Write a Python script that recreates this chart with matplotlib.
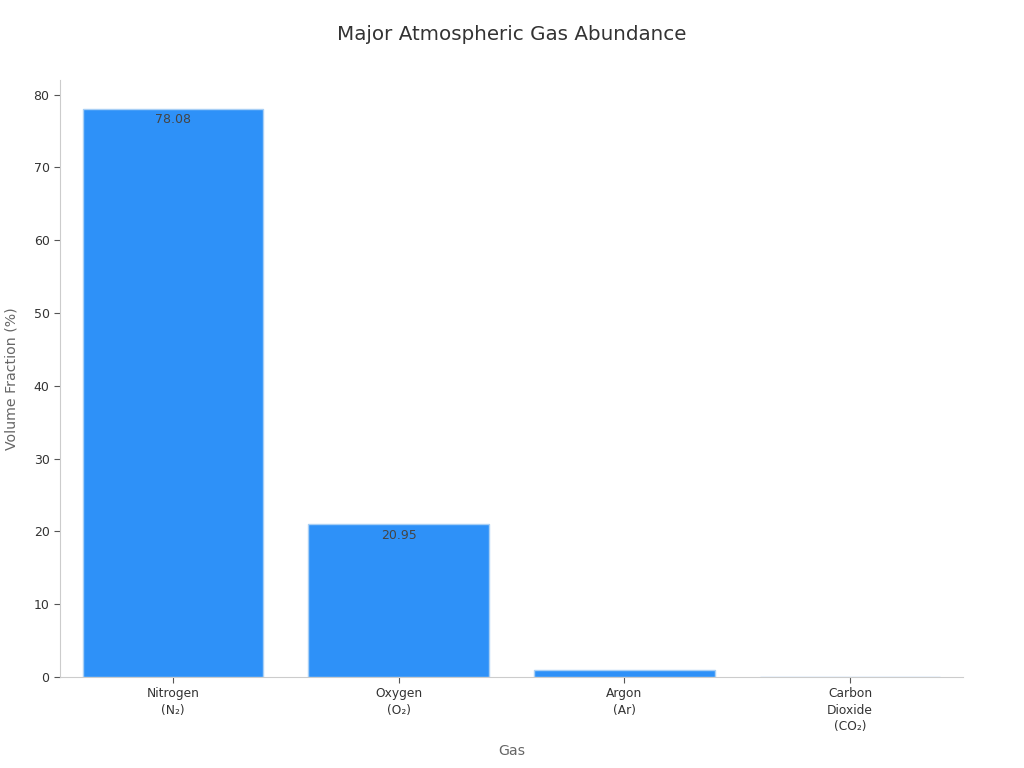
import matplotlib
matplotlib.use("Agg")
import matplotlib.pyplot as plt

gases = ["Nitrogen\n(N₂)", "Oxygen\n(O₂)", "Argon\n(Ar)", "Carbon\nDioxide\n(CO₂)"]
fractions = [78.08, 20.95, 0.93, 0.04]
labels = ["78.08", "20.95", "", ""]

plt.rcParams['font.family'] = ['DejaVu Sans']
fig = plt.figure(figsize=(10.24, 7.68), dpi=100)
ax = fig.add_axes([0.0586, 0.1185, 0.8818, 0.7773])

x = list(range(len(gases)))
bars = ax.bar(x, fractions, width=0.8, color="#2e91f8", edgecolor="#a8cff5", linewidth=1)
for b, lab in zip(bars, labels):
    if lab:
        ax.text(b.get_x() + b.get_width() / 2, b.get_height() - 0.6, lab,
                ha="center", va="top", fontsize=9, color="#444444")

ax.set_xlim(-0.5, 3.5)
ax.set_ylim(0, 82)
ax.set_xticks(x)
ax.set_xticklabels(gases, fontsize=8.8, color="#333333", linespacing=1.35)
ax.set_yticks(range(0, 81, 10))
ax.tick_params(axis="y", labelsize=9, labelcolor="#333333", color="#555555", length=4)
ax.tick_params(axis="x", color="#555555", length=4)
for s in ["top", "right"]:
    ax.spines[s].set_visible(False)
for s in ["left", "bottom"]:
    ax.spines[s].set_color("#cccccc")
ax.set_xlabel("Gas", fontsize=10.2, color="#666666", labelpad=7.5)
ax.set_ylabel("Volume Fraction (%)", fontsize=10.2, color="#666666", labelpad=11)
fig.suptitle("Major Atmospheric Gas Abundance", fontsize=14.3, color="#333333", y=0.968)

fig.savefig("out.png")
